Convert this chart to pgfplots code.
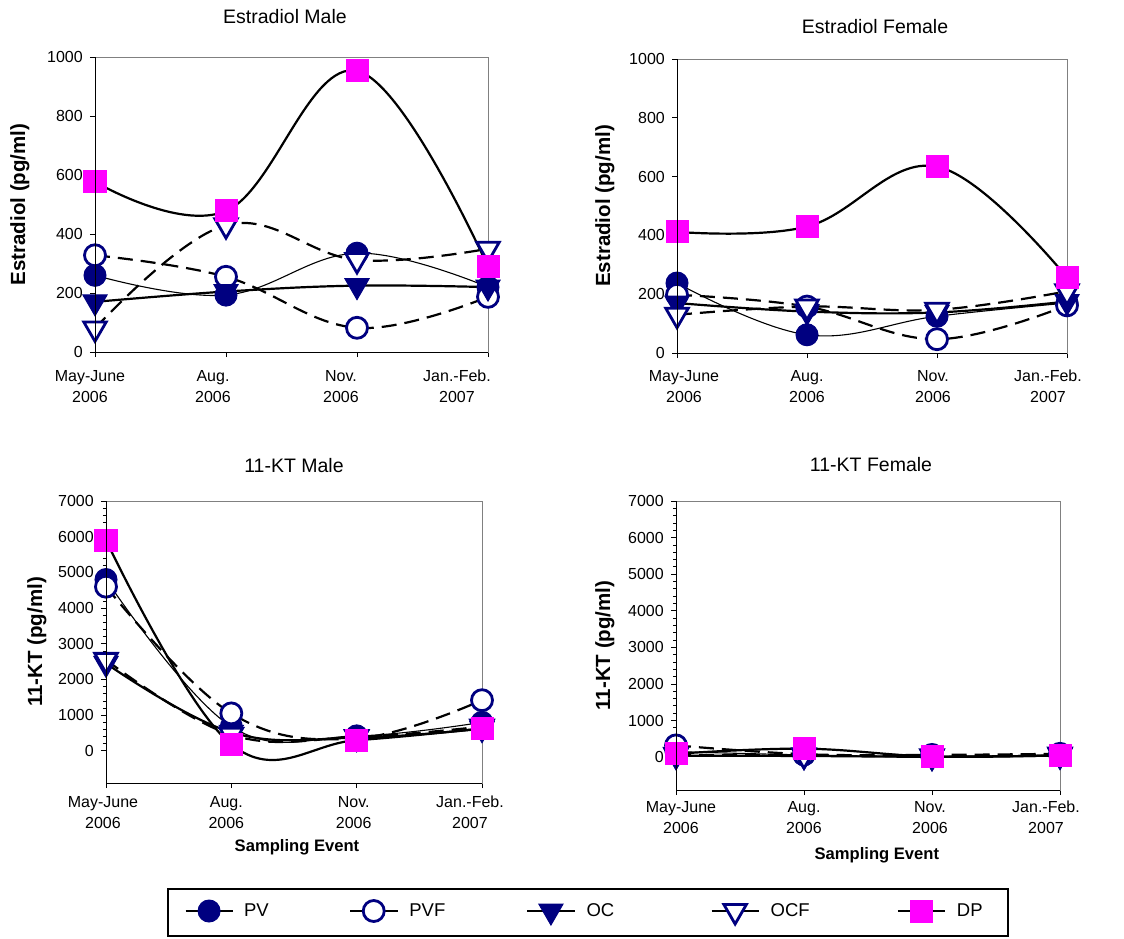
\documentclass[border=0pt]{standalone}
\usepackage{pgfplots}
\pgfplotsset{compat=1.18}
\usepackage{fontspec}
\setmainfont{Liberation Sans}
\definecolor{navy}{RGB}{0,0,128}
\definecolor{mag}{RGB}{255,0,255}
\newcommand{\xl}[3]{\hspace*{#1pt}\begin{tabular}{@{}c@{}}#2\\#3\end{tabular}\hspace*{-#1pt}}
\pgfplotsset{
  panel/.style={
    scale only axis, xmin=0, xmax=3, xtick={0,1,2,3},
    tick align=outside, ytick pos=left, xtick pos=bottom,
    major tick length=5pt, minor tick length=3pt,
    tick style={black, line width=0.8pt},
    axis line style={draw=gray, line width=0.8pt},
    every tick label/.append style={font=\fontsize{16}{21}\selectfont},
    /pgf/number format/assume math mode=true,
    /pgf/number format/1000 sep={},
    xticklabel style={inner sep=0pt, anchor=north},
    yticklabel style={inner sep=0pt},
    yticklabel shift=7pt,
    title style={font=\fontsize{19.5}{23}\selectfont, at={(0.5,1)}, anchor=center},
    ylabel style={font=\fontsize{20.5}{24}\bfseries\selectfont, anchor=center},
    xlabel style={font=\fontsize{16.6}{20}\bfseries\selectfont, anchor=center},
    clip=false,
    after end axis/.code={\draw[black,line width=0.8pt] (rel axis cs:0,1) -- (rel axis cs:0,0) -- (rel axis cs:1,0);},
    legend image code/.code={\draw[mark repeat=2,mark phase=2,solid] plot coordinates {(0pt,0pt) (23.5pt,0pt) (47pt,0pt)};},
    every axis plot/.append style={smooth, tension=0.65},
  },
  pv/.style={black, line width=1.1pt, mark=*, mark size=11pt, mark options={solid, draw=navy, fill=navy, line width=1pt}},
  pvf/.style={black, line width=2.2pt, dash pattern=on 15pt off 8pt, mark=*, mark size=10.5pt, mark options={solid, draw=navy, fill=white, line width=2.8pt}},
  oc/.style={black, line width=2.2pt, mark=triangle*, mark size=14pt, mark options={solid, rotate=180, draw=navy, fill=navy, line width=1pt}},
  ocf/.style={black, line width=2.2pt, dash pattern=on 15pt off 8pt, mark=triangle*, mark size=13pt, mark options={solid, rotate=180, draw=navy, fill=white, line width=2.8pt}},
  dp/.style={black, line width=2.2pt, mark=square*, mark size=11pt, mark options={solid, draw=mag, fill=mag, line width=1pt}},
}
\begin{document}
\begin{tikzpicture}
\useasboundingbox (0pt,0pt) rectangle (1124pt,-938pt);
% Estradiol Male
\begin{axis}[panel, at={(95pt,-57pt)}, anchor=north west, width=393pt, height=295pt,
  ymin=0, ymax=1000, ytick={0,200,...,1000},
  xticklabels={{\xl{-5}{May-June}{2006}},{\xl{-13}{Aug.}{2006}},{\xl{-16}{Nov.}{2006}},{\xl{-31}{Jan.-Feb.}{2007}}},
  xticklabel shift=10pt,
  title={Estradiol Male}, title style={yshift=34pt, xshift=-6.5pt},
  ylabel={Estradiol (pg/ml)}, ylabel style={at={(axis description cs:-0.191,0.5)}}]
\addplot[pv] coordinates {(0,260)(1,193)(2,335)(3,220)};
\addplot[pvf] coordinates {(0,328)(1,255)(2,82)(3,187)};
\addplot[oc] coordinates {(0,170)(1,205)(2,225)(3,220)};
\addplot[ocf] coordinates {(0,80)(1,430)(2,312)(3,350)};
\addplot[dp] coordinates {(0,577)(1,478)(2,953)(3,289)};
\end{axis}
% Estradiol Female
\begin{axis}[panel, at={(677pt,-59pt)}, anchor=north west, width=390pt, height=294pt,
  ymin=0, ymax=1000, ytick={0,200,...,1000},
  xticklabels={{\xl{7}{May-June}{2006}},{\xl{0}{Aug.}{2006}},{\xl{-4}{Nov.}{2006}},{\xl{-19}{Jan.-Feb.}{2007}}},
  xticklabel shift=9pt,
  title={Estradiol Female}, title style={yshift=26pt, xshift=3pt},
  ylabel={Estradiol (pg/ml)}, ylabel style={at={(axis description cs:-0.185,0.5)}}]
\addplot[pv] coordinates {(0,238)(1,62)(2,125)(3,170)};
\addplot[pvf] coordinates {(0,198)(1,158)(2,47)(3,162)};
\addplot[oc] coordinates {(0,170)(1,141)(2,138)(3,175)};
\addplot[ocf] coordinates {(0,130)(1,158)(2,147)(3,210)};
\addplot[dp] coordinates {(0,412)(1,430)(2,634)(3,257)};
\end{axis}
% 11-KT Male
\begin{axis}[panel, at={(106pt,-501pt)}, anchor=north west, width=376pt, height=282pt,
  ymin=-900, ymax=7000, ytick={0,1000,...,7000}, minor y tick num=4,
  xticklabels={{\xl{-3}{May-June}{2006}},{\xl{-5}{Aug.}{2006}},{\xl{-3}{Nov.}{2006}},{\xl{-12}{Jan.-Feb.}{2007}}},
  xticklabel shift=5pt,
  title={11-KT Male}, title style={yshift=29pt},
  ylabel={11-KT (pg/ml)}, ylabel style={at={(axis description cs:-0.184,0.5)}},
  xlabel={Sampling Event}, xlabel style={at={(axis description cs:0.508,-0.227)}}]
\addplot[pv] coordinates {(0,4800)(1,680)(2,420)(3,800)};
\addplot[pvf] coordinates {(0,4600)(1,1050)(2,350)(3,1420)};
\addplot[oc] coordinates {(0,2450)(1,520)(2,370)(3,620)};
\addplot[ocf] coordinates {(0,2550)(1,450)(2,390)(3,680)};
\addplot[dp] coordinates {(0,5900)(1,180)(2,300)(3,630)};
\end{axis}
% 11-KT Female
\begin{axis}[panel, at={(676pt,-501pt)}, anchor=north west, width=384pt, height=289pt,
  ymin=-900, ymax=7000, ytick={0,1000,...,7000}, minor y tick num=4,
  xticklabels={{\xl{5}{May-June}{2006}},{\xl{0}{Aug.}{2006}},{\xl{-2}{Nov.}{2006}},{\xl{-14}{Jan.-Feb.}{2007}}},
  xticklabel shift=3pt,
  title={11-KT Female}, title style={yshift=30pt, xshift=3pt},
  ylabel={11-KT (pg/ml)}, ylabel style={at={(axis description cs:-0.185,0.5)}},
  xlabel={Sampling Event}, xlabel style={at={(axis description cs:0.523,-0.225)}},
  legend columns=5,
  legend style={at={(axis description cs:-0.2292,-0.4239)}, anchor=center, draw=black, line width=2.2pt,
    inner xsep=17pt, inner ysep=11pt, nodes={inner sep=0pt},
    font=\fontsize{18.5}{22}\selectfont,
    /tikz/every odd column/.append style={column sep=11pt}}]
\addplot[pv] coordinates {(0,150)(1,60)(2,20)(3,60)};
\addlegendentry{\makebox[105pt][l]{PV}}
\addplot[pvf] coordinates {(0,320)(1,80)(2,60)(3,90)};
\addlegendentry{\makebox[117pt][l]{PVF}}
\addplot[oc] coordinates {(0,40)(1,30)(2,10)(3,40)};
\addlegendentry{\makebox[124pt][l]{OC}}
\addplot[ocf] coordinates {(0,60)(1,50)(2,20)(3,70)};
\addlegendentry{\makebox[126pt][l]{OCF}}
\addplot[dp] coordinates {(0,90)(1,230)(2,15)(3,50)};
\addlegendentry{\makebox[34pt][l]{DP}}
\end{axis}
\end{tikzpicture}
\end{document}
